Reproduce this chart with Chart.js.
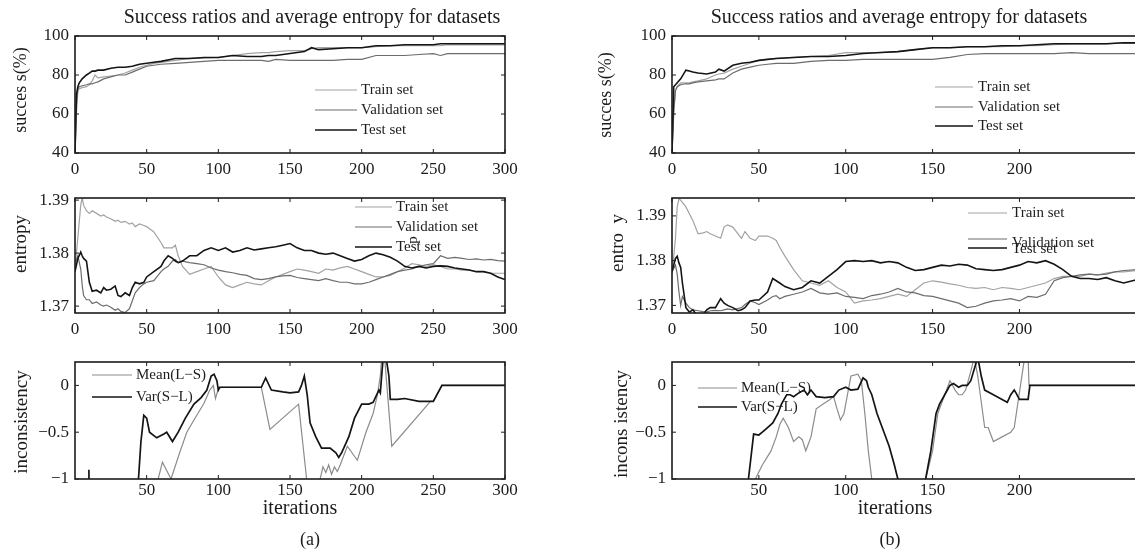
<!DOCTYPE html>
<html>
<head>
<meta charset="utf-8">
<script src="https://cdn.jsdelivr.net/npm/chart.js@4.4.1/dist/chart.umd.min.js"></script>
<style>
  html, body { margin: 0; padding: 0; background: #fff; overflow: hidden; }
  #fig { position: relative; width: 1135px; height: 552px; overflow: hidden; }
</style>
</head>
<body>
<div id="fig"></div>
<script>
// tick labels
const ITER_TICKS_A = [0, 50, 100, 150, 200, 250, 300];
const ITER_TICKS_A_BOTTOM = [50, 100, 150, 200, 250, 300];
const ITER_TICKS_B = [0, 50, 100, 150, 200];
const ITER_TICKS_B_BOTTOM = [50, 100, 150, 200];
const SUCCESS_TICKS = [40, 60, 80, 100];
const ENTROPY_TICKS = [1.37, 1.38, 1.39];
const INCONS_TICKS = [-1, -0.5, 0];
const SET_NAMES = ['Train set', 'Validation set', 'Test set'];
const INCONS_NAMES = ['Mean(L\u2212S)', 'Var(S\u2212L)'];

// (a) success ratios
const A_SUCC_X = [0, 1, 2, 3, 5, 8, 10, 12, 14, 16, 20, 25, 30, 35, 40, 45, 50, 55, 60, 70, 80, 90, 100, 110, 120, 130, 135, 140, 150, 160, 165, 170, 180, 190, 200, 210, 220, 230, 240, 250, 255, 260, 270, 280, 290, 300];
const A_SUCC_TRAIN = [40, 60, 72, 73, 73.5, 74, 75, 77, 80, 78.5, 79, 79.5, 80, 81, 82.5, 84, 85, 86, 86.5, 87.5, 88.5, 88.8, 89, 90, 91, 91.5, 91.5, 92, 92.5, 92.5, 93.5, 94, 94, 94, 94, 94.5, 95, 95, 95, 95, 95, 95.5, 95.5, 95.5, 95.5, 95.5];
const A_SUCC_VAL = [40, 65, 73, 74, 74.5, 75, 75.5, 75.5, 76, 76.5, 78, 79, 80, 80, 81.5, 83, 84.5, 85, 85.5, 86, 86.5, 87, 87.5, 87.5, 87.5, 87.5, 87, 88, 87.5, 87.5, 87.5, 87.5, 87.5, 88, 88, 90, 90, 90, 90.5, 91, 90, 91, 91, 91, 91, 91];
const A_SUCC_TEST = [40, 70, 74, 76, 78, 80, 81, 82, 82, 82.5, 82.5, 83.5, 84, 84, 84.5, 85.5, 86, 86.5, 87, 88.5, 88.5, 89, 89, 90, 89.5, 89.5, 90, 90, 91, 92, 94, 93, 93.5, 94, 94, 95, 95, 95.5, 95.5, 95.5, 96, 96, 96, 96, 96, 96];

// (b) success ratios
const B_SUCC_X = [0, 1, 2, 3, 5, 8, 10, 12, 15, 20, 25, 27, 30, 35, 40, 45, 50, 55, 60, 70, 80, 90, 100, 110, 120, 130, 140, 150, 160, 170, 180, 190, 200, 210, 220, 230, 240, 250, 260, 268];
const B_SUCC_TRAIN = [40, 60, 72, 74, 76, 76, 76, 76.5, 77, 78, 80, 80.5, 81, 83, 84.5, 86, 87.5, 88, 88.5, 89, 89.5, 90, 91.5, 91.5, 91.5, 92, 93, 94, 94, 94.5, 94.5, 94.5, 95, 95, 95.5, 96, 96, 96, 96.5, 96.5];
const B_SUCC_VAL = [40, 62, 72, 74, 75, 75.5, 75.5, 76, 76.5, 77, 77.5, 78, 78, 81, 83, 84, 85, 85.5, 86, 86, 87, 87.5, 87.5, 88, 88, 88, 88, 88, 89, 90.5, 91, 91, 91, 91, 91, 91.5, 91, 91, 91, 91];
const B_SUCC_TEST = [40, 74, 75, 76, 78, 82.5, 82, 81.5, 81, 80.5, 81.5, 83, 82, 85, 86, 86.5, 87.5, 88, 88.5, 89, 89.5, 89.5, 90, 91, 91.5, 92, 93, 94, 94, 94.5, 94.5, 95, 95, 95.5, 96, 96, 96, 96, 96.5, 96.5];

// (a) average entropy
const A_ENT_X = [0, 2, 4, 5, 6, 8, 10, 12, 15, 18, 20, 22, 25, 28, 30, 32, 35, 38, 40, 42, 45, 48, 50, 55, 60, 62, 65, 68, 70, 72, 75, 80, 85, 90, 95, 100, 105, 110, 115, 120, 125, 130, 135, 140, 145, 150, 155, 160, 165, 170, 175, 180, 185, 190, 195, 200, 205, 210, 215, 220, 225, 230, 235, 240, 245, 250, 255, 260, 265, 270, 275, 280, 285, 290, 295, 300];
const A_ENT_TRAIN = [1.377, 1.383, 1.389, 1.3905, 1.389, 1.388, 1.3875, 1.388, 1.3875, 1.387,
  1.3872, 1.3868, 1.3865, 1.386, 1.3862, 1.3858, 1.386, 1.3855, 1.3857, 1.385,
  1.3855, 1.3852, 1.385, 1.384, 1.382, 1.381, 1.381, 1.381, 1.3815, 1.3795,
  1.3775, 1.376, 1.3765, 1.377, 1.3775, 1.3755, 1.374, 1.3735, 1.374, 1.3745,
  1.3742, 1.374, 1.3748, 1.3755, 1.376, 1.3765, 1.377, 1.3768, 1.3765, 1.3762,
  1.377, 1.3768, 1.3772, 1.3775, 1.377, 1.3765, 1.376, 1.3755, 1.3755, 1.3758,
  1.3765, 1.3772, 1.378, 1.3778, 1.3775, 1.3778, 1.3775, 1.377, 1.377, 1.3768,
  1.3768, 1.3765, 1.3765, 1.3762, 1.3762, 1.3762];
const A_ENT_VAL = [1.378, 1.3795, 1.377, 1.374, 1.372, 1.3712, 1.3712, 1.3705, 1.3708, 1.3702,
  1.37, 1.3702, 1.3698, 1.3692, 1.3695, 1.369, 1.3688, 1.3695, 1.371, 1.3725,
  1.3735, 1.3742, 1.3745, 1.3748, 1.3765, 1.377, 1.3775, 1.3785, 1.3788, 1.3782,
  1.3785, 1.3782, 1.378, 1.3778, 1.3772, 1.3768, 1.3765, 1.3763, 1.376, 1.3758,
  1.3752, 1.375, 1.3752, 1.3755, 1.3757, 1.3758, 1.3754, 1.3752, 1.375, 1.3748,
  1.3752, 1.3748, 1.3745, 1.3745, 1.3742, 1.3742, 1.3745, 1.375, 1.3755, 1.376,
  1.3765, 1.3768, 1.377, 1.3775, 1.3778, 1.378, 1.3795, 1.379, 1.3792, 1.379,
  1.3788, 1.3789, 1.3787, 1.3788, 1.3786, 1.3785];
const A_ENT_TEST = [1.3765, 1.379, 1.3802, 1.3795, 1.379, 1.3785, 1.3745, 1.3728, 1.373, 1.3725,
  1.3735, 1.373, 1.3732, 1.3738, 1.372, 1.3718, 1.3725, 1.372, 1.3735, 1.3745,
  1.3742, 1.3745, 1.3755, 1.3765, 1.3775, 1.3785, 1.3795, 1.379, 1.3785, 1.3782,
  1.3785, 1.3795, 1.3795, 1.3805, 1.381, 1.3805, 1.381, 1.3802, 1.3805, 1.381,
  1.3806, 1.3808, 1.381, 1.3812, 1.3815, 1.3818, 1.381, 1.3805, 1.3805, 1.38,
  1.3798, 1.38, 1.3795, 1.379, 1.3785, 1.3788, 1.3795, 1.38, 1.3797, 1.3792,
  1.3785, 1.3775, 1.3772, 1.3775, 1.3772, 1.3775, 1.3776, 1.3775, 1.3772, 1.377,
  1.3768, 1.3765, 1.3765, 1.3762, 1.3755, 1.375];

// (b) average entropy
const B_ENT_X = [0, 2, 3, 4, 5, 6, 8, 10, 12, 15, 18, 20, 22, 25, 28, 30, 32, 35, 38, 40, 42, 45, 48, 50, 55, 58, 60, 62, 65, 70, 75, 80, 85, 90, 95, 100, 105, 110, 115, 120, 125, 130, 135, 140, 145, 150, 155, 160, 165, 170, 175, 180, 185, 190, 195, 200, 205, 210, 215, 220, 225, 230, 235, 240, 245, 250, 255, 260, 268];
const B_ENT_TRAIN = [1.377, 1.385, 1.392, 1.3938, 1.3935, 1.393, 1.392, 1.3905, 1.389, 1.386,
  1.3862, 1.3865, 1.386, 1.3855, 1.385, 1.3875, 1.388, 1.3875, 1.386, 1.385,
  1.3865, 1.385, 1.3845, 1.3855, 1.3855, 1.385, 1.3845, 1.383, 1.381, 1.378,
  1.3755, 1.375, 1.3745, 1.3755, 1.374, 1.373, 1.3705, 1.371, 1.3712, 1.3715,
  1.372, 1.3725, 1.372, 1.3735, 1.375, 1.3755, 1.3752, 1.3748, 1.3745, 1.374,
  1.3738, 1.374, 1.3735, 1.374, 1.3738, 1.3735, 1.374, 1.3745, 1.375, 1.376,
  1.3765, 1.3765, 1.3765, 1.377, 1.3768, 1.3772, 1.3775, 1.3775, 1.3778];
const B_ENT_VAL = [1.3775, 1.379, 1.377, 1.373, 1.37, 1.372, 1.3705, 1.3695, 1.369, 1.3688,
  1.3686, 1.3685, 1.3688, 1.3689, 1.3688, 1.369, 1.3692, 1.369, 1.3693, 1.3695,
  1.3702, 1.371, 1.3706, 1.3702, 1.3712, 1.372, 1.3722, 1.3715, 1.372, 1.3725,
  1.373, 1.3738, 1.3728, 1.3725, 1.3728, 1.372, 1.3718, 1.3715, 1.3722, 1.3725,
  1.373, 1.3738, 1.373, 1.3728, 1.3722, 1.372, 1.3715, 1.371, 1.3705, 1.3695,
  1.3698, 1.3705, 1.371, 1.3712, 1.3715, 1.371, 1.372, 1.3718, 1.3725, 1.3755,
  1.3762, 1.3765, 1.3768, 1.377, 1.3768, 1.377, 1.3775, 1.3778, 1.378];
const B_ENT_TEST = [1.3775, 1.3805, 1.381, 1.3795, 1.3785, 1.375, 1.3695, 1.3685, 1.369, 1.3675,
  1.368, 1.369, 1.3695, 1.3695, 1.3715, 1.3705, 1.37, 1.3695, 1.3688, 1.369,
  1.3695, 1.371, 1.3712, 1.3712, 1.373, 1.376, 1.3755, 1.375, 1.3742, 1.3735,
  1.374, 1.3755, 1.375, 1.3765, 1.378, 1.3798, 1.38, 1.3798, 1.38, 1.3795,
  1.3798, 1.3795, 1.3785, 1.3778, 1.378, 1.3785, 1.379, 1.3788, 1.3792, 1.379,
  1.3782, 1.378, 1.3778, 1.378, 1.3785, 1.379, 1.3798, 1.3795, 1.38, 1.3792,
  1.378, 1.3765, 1.376, 1.376, 1.3758, 1.3762, 1.3755, 1.375, 1.3758];

// (a) inconsistency, null = gap
const A_MEAN_X = [50, 58, 61, 67, 73, 78, 83, 90, 94, 96.5, 98, 100, 102, 130, 136, 156, 161.6, 165, 166, 168, 171, 173, 175, 177, 179, 181, 183, 185, 190, 197, 203, 208, 211, 213, 214, 216, 221, 248, 250, 256, 300];
const A_MEAN_Y = [-1.3, -1, -0.82, -1, -0.72, -0.5, -0.37, -0.19, -0.05, 0, -0.14, -0.035, -0.02, -0.02, -0.47, -0.2, -1, -1.3, null, -1.3, -1, -0.87, -0.93, -0.85, -0.95, -0.87, -0.92, -0.85, -0.65, -0.8, -0.5, -0.3, -0.1, 0.1, 0.3, 0.3, -0.65, -0.17, -0.17, 0, 0];
const A_VAR_X = [9.7, 9.9, 10.2, 43, 46, 48, 50, 52, 57, 62, 64, 68, 72, 77, 83, 88, 92, 95, 97, 99, 100, 101, 130, 133, 137, 145, 150, 156, 158, 160, 162, 164, 168, 172, 178, 182, 184, 186, 191, 195, 200, 205, 208, 212, 213, 215, 217, 219, 220, 225, 230, 240, 250, 256, 300];
const A_VAR_Y = [-0.9, -1.3, null, -1.3, -0.6, -0.32, -0.35, -0.5, -0.56, -0.52, -0.5, -0.6, -0.5, -0.35, -0.2, -0.13, -0.05, 0.1, 0.12, 0.05, -0.05, -0.02, -0.02, 0.08, -0.05, -0.07, -0.08, -0.07, 0, 0.1, -0.1, -0.4, -0.55, -0.67, -0.67, -0.72, -0.77, -0.72, -0.55, -0.35, -0.2, -0.2, -0.18, -0.05, -0.08, 0.3, 0.3, 0.1, -0.15, -0.15, -0.14, -0.17, -0.17, 0, 0];

// (b) inconsistency
const B_MEAN_X = [46, 48, 52, 57, 60, 62, 64, 67, 70, 73, 75, 77, 78, 80, 83, 87, 91, 93, 95, 97, 99, 101, 103, 107, 109, 111, 113, 115, 117, 118, 144, 146, 150, 153, 157, 160, 163, 165, 167, 169, 172, 174, 176, 180, 182, 185, 190, 195, 197, 203, 205, 205.5, 274];
const B_MEAN_Y = [-1.3, -1, -0.85, -0.7, -0.55, -0.42, -0.35, -0.45, -0.6, -0.55, -0.58, -0.7, -0.65, -0.55, -0.25, -0.2, -0.15, -0.12, -0.25, -0.37, -0.3, -0.1, 0.1, 0.12, 0.05, -0.3, -0.7, -1, -1.3, null, -1.3, -1, -0.7, -0.3, -0.1, 0.05, -0.05, -0.1, -0.1, -0.05, 0.15, 0.3, 0.1, -0.45, -0.45, -0.6, -0.55, -0.5, -0.45, 0.3, 0.3, 0, 0];
const B_VAR_X = [42, 44, 47, 50, 52, 55, 58, 61, 63, 66, 68, 70, 73, 76, 78, 80, 83, 88, 93, 96, 100, 103, 107, 110, 112, 113, 115, 118, 121, 125, 128, 130, 132, 133, 144, 146, 149, 152, 154, 157, 160, 162, 165, 167, 170, 172, 176, 178, 180, 185, 190, 193, 195, 197, 198, 200, 205, 206, 274];
const B_VAR_Y = [-1.3, -1, -0.52, -0.53, -0.5, -0.45, -0.4, -0.3, -0.2, -0.1, -0.1, -0.12, -0.08, -0.05, -0.1, -0.05, -0.12, -0.13, -0.12, -0.05, -0.02, -0.05, -0.04, 0.08, 0.05, -0.02, -0.1, -0.3, -0.45, -0.65, -0.85, -1, -1.3, null, -1.3, -1, -0.7, -0.3, -0.2, -0.1, 0, 0.02, -0.02, 0, 0, 0.05, 0.3, 0.1, -0.05, -0.1, -0.15, -0.18, -0.1, -0.05, -0.08, -0.15, -0.15, 0, 0];

const TITLE = 'Success ratios and average entropy for datasets';
const FONT = '"Liberation Serif", "Times New Roman", serif';
const INK = '#1c1c1c';
const C_TRAIN = '#a2a2a2';
const C_VAL = '#6c6c6c';
const C_TEST = '#141414';
const C_MEAN = '#8c8c8c';
const C_VAR = '#141414';

Chart.defaults.font.family = FONT;
Chart.defaults.color = INK;

function pts(xs, ys) {
  return xs.map((x, i) => ({ x: x, y: ys[i] }));
}

function line(label, xs, ys, color, width, order) {
  return {
    label: label,
    data: pts(xs, ys),
    borderColor: color,
    borderWidth: width,
    pointRadius: 0,
    tension: 0,
    spanGaps: false,
    order: order
  };
}

function fmtIncons(v) {
  if (v === 0) return '0';
  return v < 0 ? '\u2212' + Math.abs(v) : String(v);
}

function setLines(xs, tr, va, te) {
  return [
    line(SET_NAMES[2], xs, te, C_TEST, 1.6, 0),
    line(SET_NAMES[1], xs, va, C_VAL, 1.2, 1),
    line(SET_NAMES[0], xs, tr, C_TRAIN, 1.2, 2)
  ];
}

function setLegend(x0, x1, tx, rows, textRows) {
  const cols = [C_TRAIN, C_VAL, C_TEST];
  const ws = [1.2, 1.2, 1.6];
  return SET_NAMES.map((n, i) => ({ label: n, color: cols[i], width: ws[i], x0: x0, x1: x1, tx: tx, y: rows[i], ty: (textRows || rows)[i] }));
}

function inconsLegend(x0, x1, tx, rows) {
  return [
    { label: INCONS_NAMES[0], color: C_MEAN, width: 1.2, x0: x0, x1: x1, tx: tx, y: rows[0], ty: rows[0] },
    { label: INCONS_NAMES[1], color: C_VAR, width: 1.6, x0: x0, x1: x1, tx: tx, y: rows[1], ty: rows[1] }
  ];
}

const ROT = -Math.PI / 2;

// (b) runs past the right edge of the figure, as in the cropped original
const panels = [
  {
    id: 'aTop', left: 0, top: 0, w: 560, h: 180, yW: 75, padTop: 36, padRight: 55, xH: 27, xPad: 6,
    xMax: 300, xTicks: ITER_TICKS_A, yMin: 40, yMax: 100, yTicks: SUCCESS_TICKS, fmt: v => String(v),
    datasets: setLines(A_SUCC_X, A_SUCC_TRAIN, A_SUCC_VAL, A_SUCC_TEST),
    legend: setLegend(315, 357, 361, [90, 110, 130]),
    texts: [
      { text: TITLE, x: 312, y: 18, size: 20 },
      { text: 'succes s(%)', x: 21, y: 90, size: 18, rot: ROT }
    ]
  },
  {
    id: 'aMid', left: 0, top: 180, w: 560, h: 160, yW: 75, padTop: 18, padRight: 55, xH: 27, xPad: 6,
    xMax: 300, xTicks: ITER_TICKS_A, yMin: 1.3687, yMax: 1.3904, yTicks: ENTROPY_TICKS, fmt: v => v.toFixed(2),
    datasets: setLines(A_ENT_X, A_ENT_TRAIN, A_ENT_VAL, A_ENT_TEST),
    legend: setLegend(355, 392, 396, [207, 227, 247]),
    texts: [
      { text: 'entropy', x: 21, y: 244, size: 19, rot: ROT },
      { text: 'p', x: 413, y: 240, size: 15, rot: ROT }
    ]
  },
  {
    id: 'aBot', left: 0, top: 340, w: 560, h: 212, yW: 75, padTop: 22, padRight: 55, xH: 73, xPad: 1,
    xMax: 300, xTicks: ITER_TICKS_A_BOTTOM, yMin: -1, yMax: 0.25, yTicks: INCONS_TICKS, fmt: fmtIncons,
    datasets: [
      line(INCONS_NAMES[1], A_VAR_X, A_VAR_Y, C_VAR, 1.7, 0),
      line(INCONS_NAMES[0], A_MEAN_X, A_MEAN_Y, C_MEAN, 1.2, 1)
    ],
    legend: inconsLegend(92, 132, 136, [375, 397]),
    texts: [
      { text: 'inconsistency', x: 22, y: 422, size: 19, rot: ROT },
      { text: 'iterations', x: 300, y: 509, size: 20 },
      { text: '(a)', x: 310, y: 540, size: 18 }
    ]
  },
  {
    id: 'bTop', left: 570, top: 0, w: 580, h: 180, yW: 102, padTop: 36, padRight: 2, xH: 27, xPad: 6,
    xMax: 274, xTicks: ITER_TICKS_B, yMin: 40, yMax: 100, yTicks: SUCCESS_TICKS, fmt: v => String(v),
    datasets: setLines(B_SUCC_X, B_SUCC_TRAIN, B_SUCC_VAL, B_SUCC_TEST),
    legend: setLegend(935, 973, 978, [87, 107, 126]),
    texts: [
      { text: TITLE, x: 899, y: 18, size: 20 },
      { text: 'succes s(%)', x: 606, y: 95, size: 18, rot: ROT }
    ]
  },
  {
    id: 'bMid', left: 570, top: 180, w: 580, h: 160, yW: 102, padTop: 18, padRight: 2, xH: 27, xPad: 6,
    xMax: 274, xTicks: ITER_TICKS_B, yMin: 1.3683, yMax: 1.394, yTicks: ENTROPY_TICKS, fmt: v => v.toFixed(2),
    datasets: setLines(B_ENT_X, B_ENT_TRAIN, B_ENT_VAL, B_ENT_TEST),
    legend: setLegend(968, 1007, 1012, [213, 239, 248], [213, 243, 249]),
    texts: [
      { text: 'entro  y', x: 618, y: 243, size: 19, rot: ROT }
    ]
  },
  {
    id: 'bBot', left: 570, top: 340, w: 580, h: 212, yW: 102, padTop: 22, padRight: 2, xH: 73, xPad: 1,
    xMax: 274, xTicks: ITER_TICKS_B_BOTTOM, yMin: -1, yMax: 0.25, yTicks: INCONS_TICKS, fmt: fmtIncons,
    datasets: [
      line(INCONS_NAMES[1], B_VAR_X, B_VAR_Y, C_VAR, 1.7, 0),
      line(INCONS_NAMES[0], B_MEAN_X, B_MEAN_Y, C_MEAN, 1.2, 1)
    ],
    legend: inconsLegend(698, 737, 741, [388, 407]),
    texts: [
      { text: 'incons istency', x: 622, y: 424, size: 19, rot: ROT },
      { text: 'iterations', x: 895, y: 509, size: 20 },
      { text: '(b)', x: 890, y: 540, size: 18 }
    ]
  }
];

// box round the plot area with inward ticks, matlab style
const framePlugin = {
  id: 'frame',
  afterDatasetsDraw(chart) {
    const ctx = chart.ctx;
    const a = chart.chartArea;
    const x = chart.scales.x;
    const y = chart.scales.y;
    const t = 4;
    ctx.save();
    ctx.strokeStyle = INK;
    ctx.lineWidth = 1;
    ctx.beginPath();
    x.ticks.forEach(tk => {
      const px = x.getPixelForValue(tk.value);
      ctx.moveTo(px, a.bottom); ctx.lineTo(px, a.bottom - t);
      ctx.moveTo(px, a.top); ctx.lineTo(px, a.top + t);
    });
    y.ticks.forEach(tk => {
      const py = y.getPixelForValue(tk.value);
      ctx.moveTo(a.left, py); ctx.lineTo(a.left + t, py);
      ctx.moveTo(a.right, py); ctx.lineTo(a.right - t, py);
    });
    ctx.stroke();
    ctx.lineWidth = 1.6;
    ctx.strokeRect(a.left, a.top, a.right - a.left, a.bottom - a.top);
    ctx.restore();
  }
};

function overlay(p) {
  return {
    id: 'overlay',
    afterDraw(chart) {
      const ctx = chart.ctx;
      ctx.save();
      ctx.translate(-p.left, -p.top);
      ctx.font = '15px ' + FONT;
      ctx.textBaseline = 'middle';
      ctx.textAlign = 'left';
      p.legend.forEach(it => {
        ctx.strokeStyle = it.color;
        ctx.lineWidth = it.width;
        ctx.beginPath();
        ctx.moveTo(it.x0, it.y);
        ctx.lineTo(it.x1, it.y);
        ctx.stroke();
        ctx.fillStyle = INK;
        ctx.fillText(it.label, it.tx, it.ty);
      });
      p.texts.forEach(tx => {
        ctx.save();
        ctx.font = tx.size + 'px ' + FONT;
        ctx.fillStyle = INK;
        ctx.textAlign = 'center';
        ctx.textBaseline = 'middle';
        ctx.translate(tx.x, tx.y);
        if (tx.rot) ctx.rotate(tx.rot);
        ctx.fillText(tx.text, 0, 0);
        ctx.restore();
      });
      ctx.restore();
    }
  };
}

const fig = document.getElementById('fig');
panels.forEach(p => {
  const c = document.createElement('canvas');
  c.width = p.w;
  c.height = p.h;
  c.style.cssText = `position:absolute;left:${p.left}px;top:${p.top}px;width:${p.w}px;height:${p.h}px`;
  fig.appendChild(c);
  new Chart(c.getContext('2d'), {
    type: 'line',
    data: { datasets: p.datasets },
    options: {
      responsive: false,
      animation: false,
      events: [],
      layout: { padding: { top: p.padTop, right: p.padRight, left: 0, bottom: 0 } },
      plugins: { legend: { display: false }, tooltip: { enabled: false } },
      scales: {
        x: {
          type: 'linear',
          min: 0,
          max: p.xMax,
          grid: { display: false, drawTicks: false },
          border: { display: false },
          afterBuildTicks: s => { s.ticks = p.xTicks.map(v => ({ value: v })); },
          afterFit: s => { s.height = p.xH; },
          ticks: { padding: p.xPad, autoSkip: false, maxRotation: 0, font: { size: 17 }, color: INK, callback: v => String(v) }
        },
        y: {
          type: 'linear',
          min: p.yMin,
          max: p.yMax,
          grid: { display: false, drawTicks: false },
          border: { display: false },
          afterBuildTicks: s => { s.ticks = p.yTicks.map(v => ({ value: v })); },
          afterFit: s => { s.width = p.yW; },
          ticks: { padding: 6, autoSkip: false, font: { size: 17 }, color: INK, callback: p.fmt }
        }
      }
    },
    plugins: [framePlugin, overlay(p)]
  });
});
</script>
</body>
</html>
